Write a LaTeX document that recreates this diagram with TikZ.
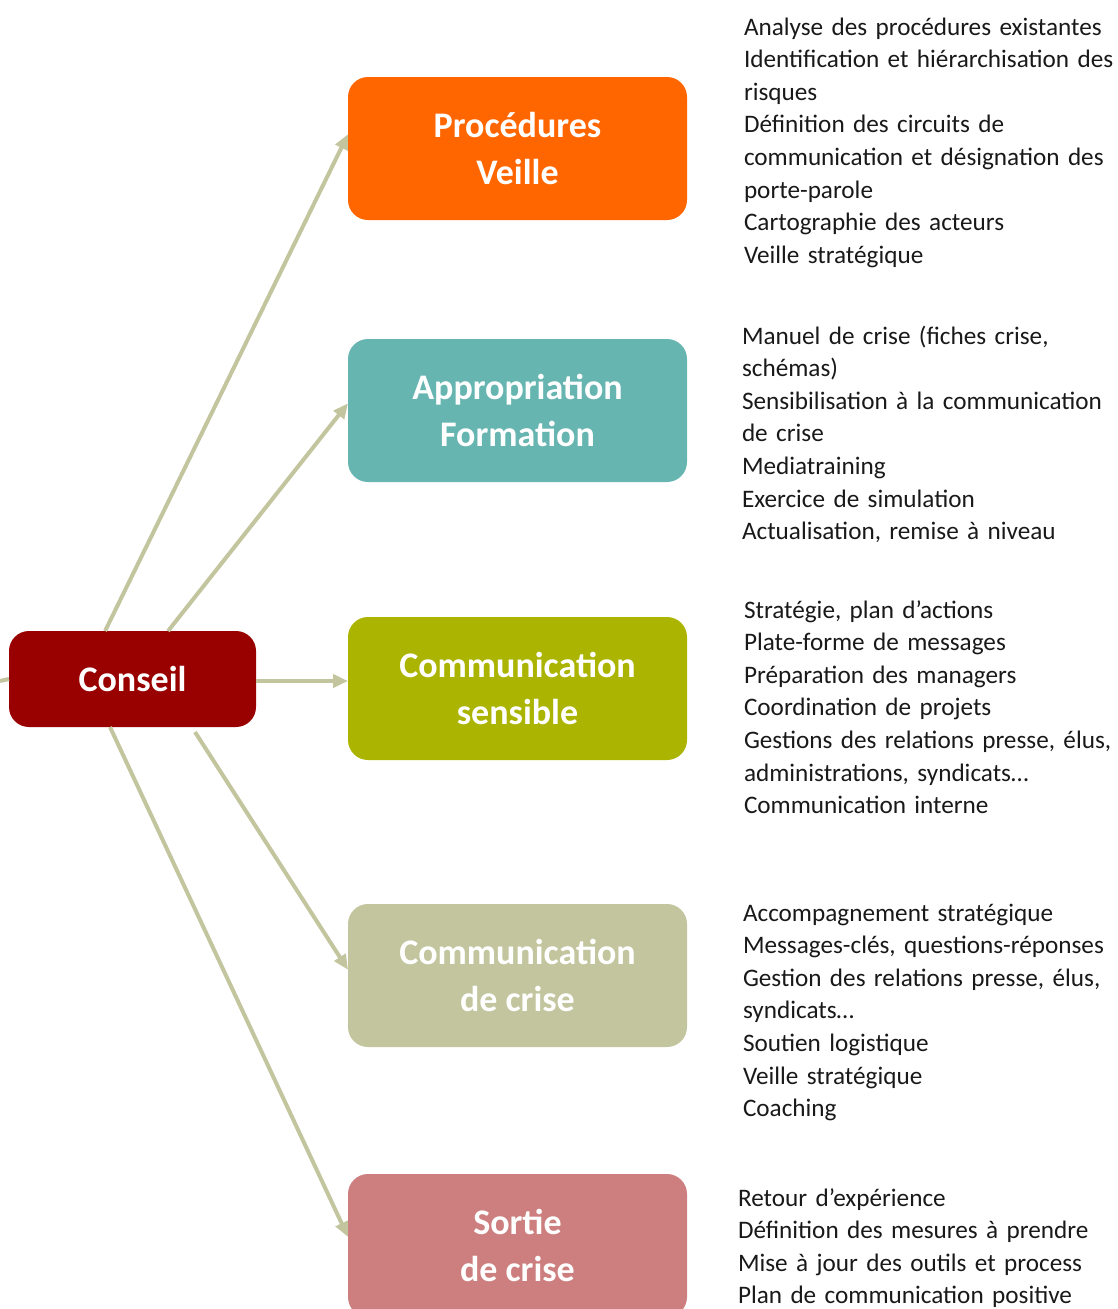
\documentclass[tikz,border=0pt]{standalone}
\usepackage{fontspec}
\setmainfont{Carlito}
\usetikzlibrary{
	calc,
	arrows.meta,
	positioning
}
\definecolor{procOrange}{HTML}{FF6600}
\definecolor{approTeal}{HTML}{66B5B1}
\definecolor{sensOlive}{HTML}{ABB400}
\definecolor{criseKhaki}{HTML}{C2C59D}
\definecolor{sortiePink}{HTML}{CC7F7E}
\definecolor{conseilRed}{HTML}{990000}

\begin{document}
\begin{tikzpicture}[x=1pt,y=-1pt,->,>={Triangle[length=15pt,width=13pt]},
        line width=4pt,draw=criseKhaki,
        title node/.style={rectangle,rounded corners=20pt,draw=none,text=white,
          outer sep=0pt,minimum width=339pt,minimum height=143pt,align=center,
          font=\fontsize{36}{47}\selectfont\bfseries},
        text node/.style={anchor=base west,inner sep=0pt,text width=400pt,
          align=left,text=black!90,font=\fontsize{25.2}{32.6}\selectfont}]
        \useasboundingbox (0,0) rectangle (1118,1309);

        \node[title node,fill=procOrange] (proc) at (517.5,148.5) {Procédures\\Veille};
        \node[title node,fill=approTeal] (appro) [below = 119pt of proc] {Appropriation\\Formation};
        \node[title node,fill=sensOlive] (sens) [below = 135pt of appro] {Communication\\sensible};
        \node[title node,fill=criseKhaki] (crise) [below = 144pt of sens] {Communication\\de crise};
        \node[title node,fill=sortiePink] (sortie) [below = 127pt of crise] {Sortie\\de crise};
        \node[title node,fill=conseilRed,minimum width=247pt,minimum height=96pt] (conseil) at (132.5,679) {Conseil};
        \coordinate (entree) at (0,681);

        \node[text node] (procTxt) at (742,35) {Analyse des procédures existantes\\
          Identification et hiérarchisation des\\risques\\Définition des circuits de\\
          communication et désignation des\\porte-parole\\Cartographie des acteurs\\
          Veille stratégique};
        \node[text node] (approTxt) at (740,344) {Manuel de crise (fiches crise,\\schémas)\\
          Sensibilisation à la communication\\de crise\\Mediatraining\\
          Exercice de simulation\\Actualisation, remise à niveau};
        \node[text node] (sensTxt) at (742,618) {Stratégie, plan d’actions\\Plate-forme de messages\\
          Préparation des managers\\Coordination de projets\\
          Gestions des relations presse, élus,\\administrations, syndicats…\\Communication interne};
        \node[text node] (criseTxt) at (741,921) {Accompagnement stratégique\\
          Messages-clés, questions-réponses\\Gestion des relations presse, élus,\\
          syndicats…\\Soutien logistique\\Veille stratégique\\Coaching};
        \node[text node] (sortieTxt) at (736,1206) {Retour d’expérience\\
          Définition des mesures à prendre\\Mise à jour des outils et process\\
          Plan de communication positive};

          % liens depuis le conseil
          \draw[-] (entree) -- (conseil.west);
          \draw ($(conseil.north west)!0.389!(conseil.north east)$) -- ($(proc.north west)!0.4!(proc.south west)$);
          \draw ($(conseil.north west)!0.644!(conseil.north east)$) -- ($(appro.north west)!0.45!(appro.south west)$);
          \draw (conseil.east |- entree) -- (sens.west |- entree);
          \draw[shorten <=6pt] ($(conseil.south west)!0.74!(conseil.south east)$) -- ($(crise.north west)!0.46!(crise.south west)$);
          \draw ($(conseil.south west)!0.409!(conseil.south east)$) -- ($(sortie.north west)!0.44!(sortie.south west)$);
\end{tikzpicture}
\end{document}
